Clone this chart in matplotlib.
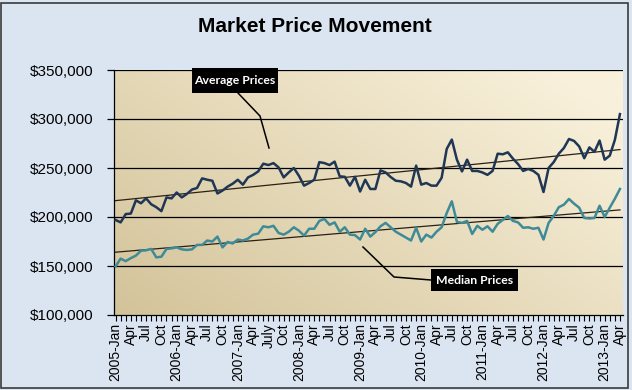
import matplotlib
matplotlib.use('Agg')
import matplotlib.pyplot as plt
import numpy as np
from matplotlib.patches import Rectangle
from matplotlib.colors import to_rgb
from matplotlib.ticker import FuncFormatter

# monthly prices, 2005-Jan .. 2013-Apr, in thousands of dollars
average_prices = [197, 194.5, 203, 203.5, 217, 214, 219, 213, 210, 206,
                  220, 219, 225, 220, 223.5, 228, 229.6, 239.4, 238, 237,
                  224, 227, 231, 234, 238, 233, 240.4, 243, 246.5, 254.4,
                  253, 255, 250.6, 240.4, 245.5, 250, 242, 232, 234.7, 238,
                  256, 255, 253, 256.5, 241.5, 241, 232, 241, 226, 238,
                  228.6, 228.6, 247.6, 245.5, 240.8, 237, 236.4, 234.7, 231, 252.4,
                  233, 234.7, 232, 232, 240, 269.4, 279, 258.5, 246.5, 258.5,
                  247, 247, 245.5, 243, 247, 264.6, 264, 266, 259.5, 254,
                  247, 249, 247, 243, 225.5, 250, 256, 264.6, 270.4, 279.6,
                  277.6, 272, 260, 271, 266.5, 278, 258.5, 262.6, 278.6, 305]
median_prices = [149.7, 157.5, 155, 158, 160.6, 165.6, 166, 167.4, 158.8, 159.5,
                 167.4, 168, 169, 167, 166.4, 167, 171.5, 171.5, 176, 175,
                 180, 169, 174.5, 173, 177, 176, 178, 182, 183, 190.5,
                 189.5, 191, 183.7, 182, 185, 189.5, 186, 181, 188, 188,
                 196, 198, 192, 194.5, 185, 189.5, 182, 181.5, 177, 188,
                 180, 184.6, 190.5, 194, 189.5, 185, 182, 179, 176, 189,
                 175, 182, 179, 185, 189.5, 204, 216, 195, 194, 196,
                 182.7, 191, 187, 190.5, 185, 193, 197, 201, 196, 194.5,
                 189, 189.5, 188, 189, 177, 194, 201, 210, 212.6, 218.4,
                 213.6, 209.5, 199, 198.5, 199, 211.5, 200, 209.5, 218.6, 228.6]
tick_labels = ['2005-Jan', 'Apr', 'Jul', 'Oct', '2006-Jan', 'Apr', 'Jul', 'Oct',
               '2007-Jan', 'Apr', 'July', 'Oct', '2008-Jan', 'Apr', 'Jul', 'Oct',
               '2009-Jan', 'Apr', 'Jul', 'Oct', '2010-Jan', 'Apr', 'Jul', 'Oct',
               '2011-Jan', 'Apr', 'Jul', 'Oct', '2012-Jan', 'Apr', 'Jul', 'Oct',
               '2013-Jan', 'Apr']

avg = np.array(average_prices) * 1000
med = np.array(median_prices) * 1000
x = np.arange(len(avg))

plt.rcParams['font.family'] = ['Liberation Sans', 'DejaVu Sans']

fig = plt.figure(figsize=(6.32, 3.9), dpi=100, facecolor='#dbe5f1')
ax = fig.add_axes([114/632, 1-315/390, 509/632, 245/390])
ax.set_facecolor('none')

# gradient background of the plot area
gx, gy = np.meshgrid(np.linspace(0, 1, 200), np.linspace(0, 1, 200))
t = np.clip(0.65*gx + 0.45*gy, 0, 1)[..., None]
tan = np.array(to_rgb('#d3c399'))
cream = np.array(to_rgb('#f8f0da'))
grad = tan + (cream - tan) * t
ax.imshow(grad, extent=[0, 1, 0, 1], transform=ax.transAxes, origin='lower',
          aspect='auto', zorder=0)

for v in range(150000, 350001, 50000):
    ax.axhline(v, color='black', lw=0.9, zorder=1)

# linear trend lines
for s in (avg, med):
    k, b = np.polyfit(x, s, 1)
    ax.plot(x, k*x + b, color='#2a2014', lw=0.9, zorder=2)

ax.plot(x, avg, color='#1f3655', lw=1.8, zorder=3)
ax.plot(x, med, color='#3e8b97', lw=1.8, zorder=3)

ax.set_xlim(-0.3, 99.6)
ax.set_ylim(100000, 350000)
ax.set_yticks(range(100000, 350001, 50000))
ax.yaxis.set_major_formatter(FuncFormatter(lambda v, p: '${:,.0f}'.format(v)))
ax.set_xticks(x, minor=True)
ax.set_xticks(x[::3])
ax.set_xticklabels(tick_labels, rotation=90, fontsize=10)
ax.tick_params(axis='y', labelsize=11, length=5, width=0.9, pad=10)
ax.tick_params(axis='x', which='both', length=4, width=0.8, pad=2)
for sp in ('top', 'right'):
    ax.spines[sp].set_visible(False)
for sp in ('left', 'bottom'):
    ax.spines[sp].set_linewidth(0.9)

fig.text(315/632, 1-27/390, 'Market Price Movement', ha='center', va='center',
         fontsize=15, fontweight='bold')


def px(xp, yp):
    return (xp - 114) / 509, (315 - yp) / 245


def label_box(x0, y0, x1, y1, text):
    a = px(x0, y1)
    b = px(x1, y0)
    ax.add_patch(Rectangle(a, b[0]-a[0], b[1]-a[1], transform=ax.transAxes,
                           facecolor='black', edgecolor='none', clip_on=False, zorder=5))
    c = px((x0+x1)/2, (y0+y1)/2)
    ax.text(c[0], c[1], text, transform=ax.transAxes, ha='center', va='center',
            color='white', fontsize=8.8, fontweight='bold', family=['Lato', 'DejaVu Sans'],
            zorder=6)


def leader(pts):
    p = [px(a, b) for a, b in pts]
    ax.plot([q[0] for q in p], [q[1] for q in p], transform=ax.transAxes,
            color='black', lw=1.1, clip_on=False, zorder=4)


leader([(238, 93), (260, 116), (269, 148)])
label_box(192, 68, 278, 93, 'Average Prices')
leader([(363, 247), (394, 277), (431, 280)])
label_box(431, 269, 518, 291, 'Median Prices')

fig.patches.append(Rectangle((1/632, 2/390), 627/632, 385/390, transform=fig.transFigure,
                             fill=False, edgecolor='#3a3a3a', lw=1.2))

fig.savefig('out.png', dpi=100, facecolor=fig.get_facecolor())
